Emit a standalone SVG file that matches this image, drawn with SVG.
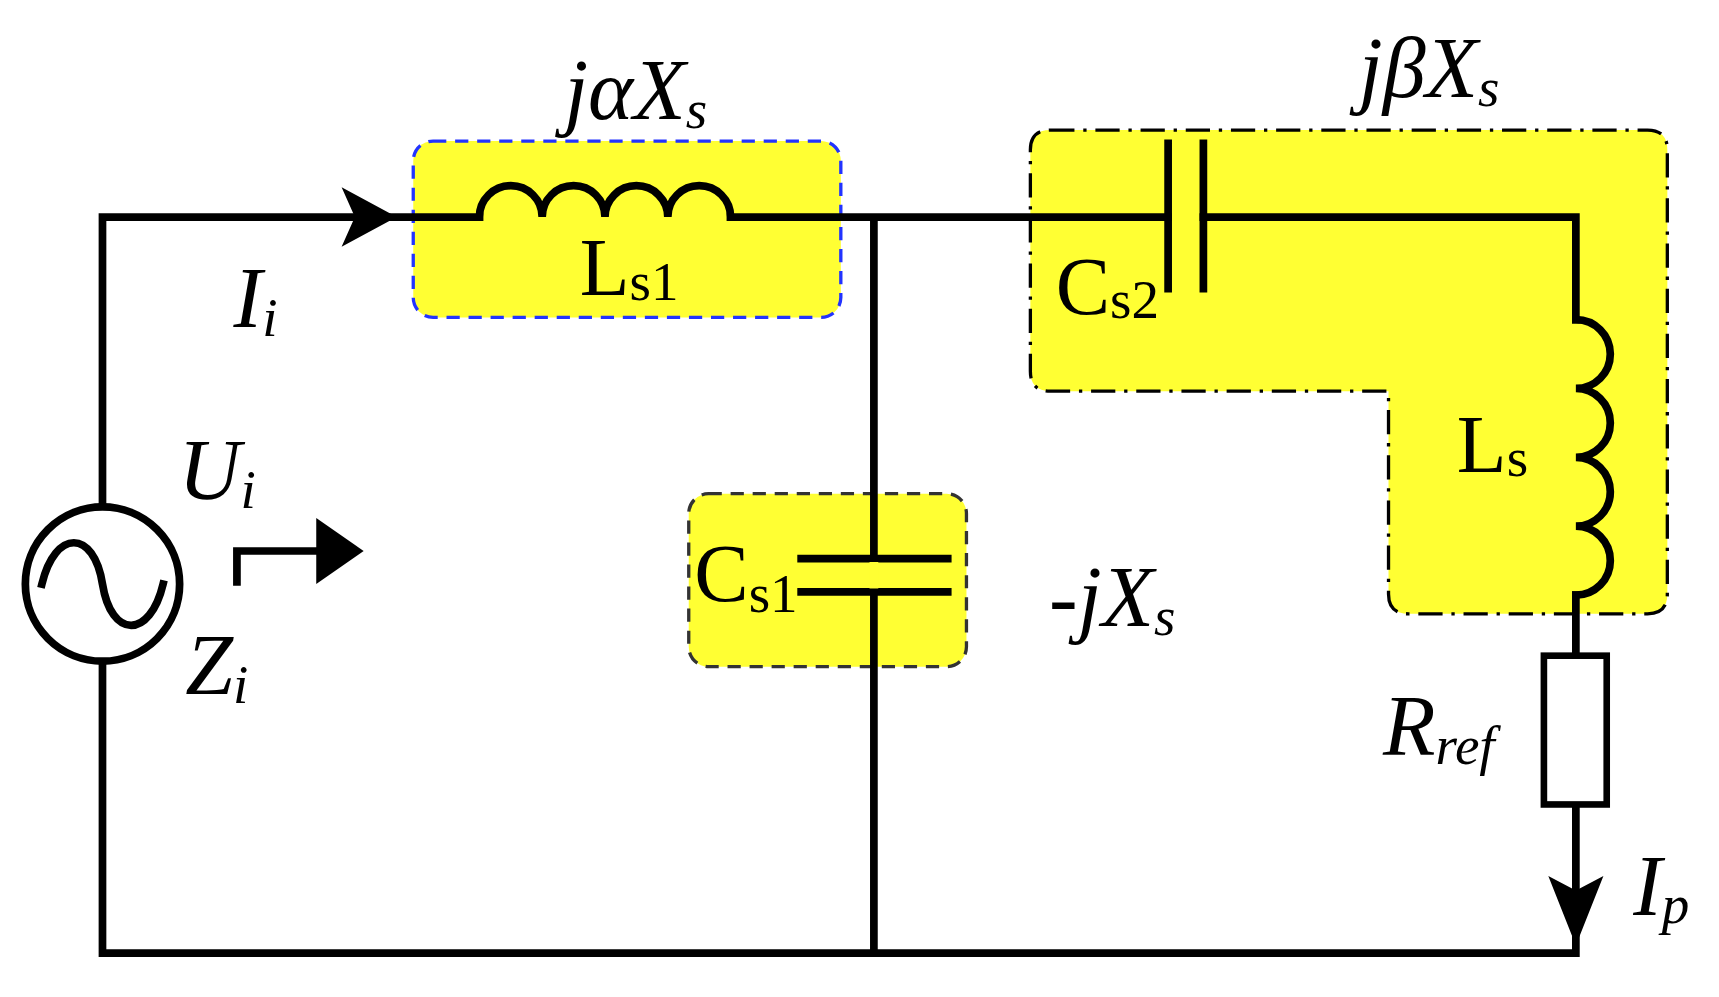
<svg xmlns="http://www.w3.org/2000/svg" width="1719" height="997" viewBox="0 0 1719 997">
<style>
.w{fill:none;stroke:#000;stroke-width:7;stroke-linecap:square}
.box{fill:#ffff33;stroke-width:3}
.t{font-family:"Liberation Serif","Times New Roman",serif;font-size:74px;fill:#000}
.i{font-style:italic;font-size:78px}
.s{font-size:50px}
</style>
<rect width="1719" height="997" fill="#fff"/>
<g transform="scale(1.102)">
<g id="box-ls1"><rect class="box" x="375" y="128" width="388" height="160" rx="18" style="stroke:#2233ff" stroke-dasharray="12,8"/></g>
<g id="box-cs1"><rect class="box" x="625" y="448" width="252" height="157" rx="18" style="stroke:#333" stroke-dasharray="12,8"/></g>
<g id="box-beta"><path class="box" d="M953 118 H1495 Q1513 118 1513 136 V539 Q1513 557 1495 557 H1278 Q1260 557 1260 539 V355 H953 Q935 355 935 337 V136 Q935 118 953 118 Z" style="stroke:#000" stroke-dasharray="22,8,3,8"/></g>
<g id="connectors">
<path class="w" d="M358 197 H93 V865 H1430 M793 197 V865 M358 197 H435 M663 197 H1060 M1092 197 H1430 V290 M1430 540 V595 M1430 730 V865"/>
<path class="w" d="M435 197 a28 28 0 0 1 57 0 a28 28 0 0 1 57 0 a28 28 0 0 1 57 0 a28 28 0 0 1 57 0" stroke-linecap="butt"/>
<path class="w" d="M1430 290 a31 31 0 0 1 0 62.5 a31 31 0 0 1 0 62.5 a31 31 0 0 1 0 62.5 a31 31 0 0 1 0 62.5" stroke-linecap="butt"/>
<path class="w" d="M1060 130 V262 M1092 130 V262 M727 507 H860 M727 537 H860" stroke-linecap="butt"/>
<path d="M793 510 V534" stroke="#ffff33" stroke-width="8"/>
<rect x="1401" y="595" width="57" height="135" fill="#fff" stroke="#000" stroke-width="6"/>
<circle cx="93" cy="530" r="70" fill="#fff" stroke="#000" stroke-width="7"/>
<path class="w" d="M38 530 C50 480 85 480 93 530 S136 580 148 530" stroke-width="6" stroke-linecap="butt"/>
<path d="M310 170 L360 197 L310 224 L322 197 Z" fill="#000"/>
<path d="M1405 795 L1430 858 L1455 795 L1430 808 Z" fill="#000"/>
<path class="w" d="M215 528 V500 H290" stroke-linecap="butt"/>
<path d="M287 470 L330 500 L287 530 Z" fill="#000"/>
</g>
<g id="labels">
<text x="512" y="108" class="t i">jαX<tspan class="s" dy="8">s</tspan></text>
<text x="1233" y="88" class="t i">jβX<tspan class="s" dy="8">s</tspan></text>
<text x="526" y="268" class="t">L<tspan class="s" dy="4">s1</tspan></text>
<text x="958" y="285" class="t">C<tspan class="s" dy="4">s2</tspan></text>
<text x="1322" y="428" class="t">L<tspan class="s" dy="4">s</tspan></text>
<text x="630" y="545" class="t">C<tspan class="s" dy="10">s1</tspan></text>
<text x="952" y="568" class="t i">-jX<tspan class="s" dy="8">s</tspan></text>
<text x="212" y="297" class="t i">I<tspan class="s" dy="8">i</tspan></text>
<text x="162" y="453" class="t i">U<tspan class="s" dy="8">i</tspan></text>
<text x="168" y="630" class="t i">Z<tspan class="s" dy="8">i</tspan></text>
<text x="1255" y="685" class="t i">R<tspan class="s" dy="8">ref</tspan></text>
<text x="1482" y="830" class="t i">I<tspan class="s" dy="8">p</tspan></text>
</g>
</g>
</svg>
